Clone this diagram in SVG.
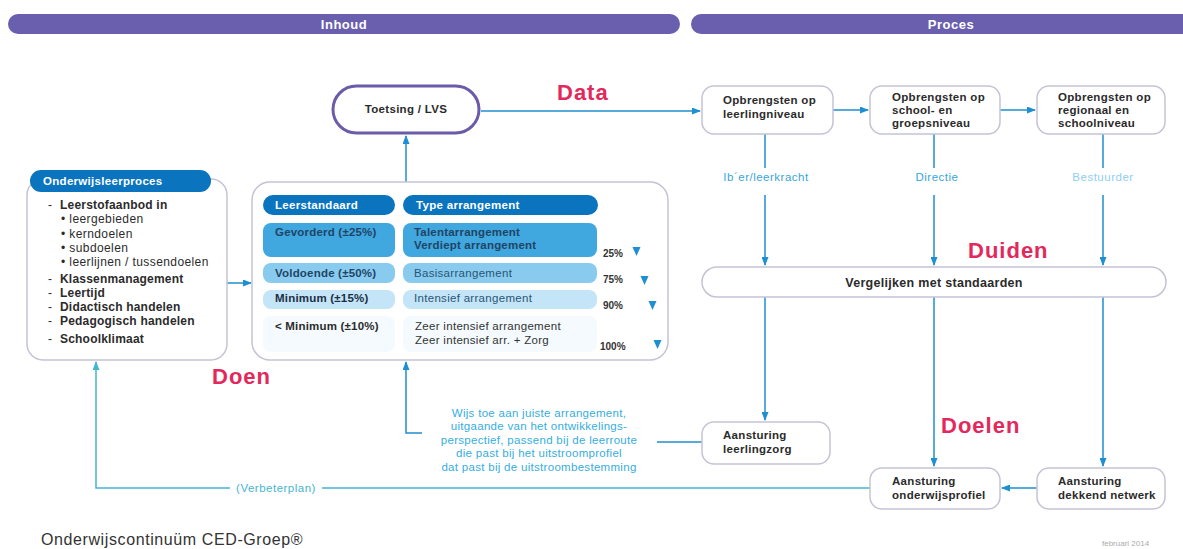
<svg xmlns="http://www.w3.org/2000/svg" width="1183" height="549" viewBox="0 0 1183 549">
<defs>
<marker id="ah" markerWidth="9" markerHeight="7" refX="8" refY="3.5" orient="auto" markerUnits="userSpaceOnUse">
<path d="M0,0 L9,3.5 L0,7 z" fill="#1e8fcf"/>
</marker>
<marker id="ahv" markerWidth="9" markerHeight="7" refX="8" refY="3.5" orient="auto" markerUnits="userSpaceOnUse">
<path d="M0,0 L9,3.5 L0,7 z" fill="#45b5d2"/>
</marker>
<style>
text{font-family:"Liberation Sans",Arial,sans-serif}
.bar{fill:#6a5fae}
.bart{fill:#fff;font-size:13px;font-weight:bold;text-anchor:middle;letter-spacing:0.5px}
.node{fill:#fff;stroke:#c4c3d6;stroke-width:1.5}
.nt{fill:#2b2b2b;font-size:11.5px;font-weight:bold;letter-spacing:0.3px}
.red{fill:#e3285c;font-size:22px;font-weight:bold;letter-spacing:1px}
.con{fill:none;stroke:#1e8fcf;stroke-width:1.5}
.conm{fill:none;stroke:#1e8fcf;stroke-width:1.5;marker-end:url(#ah)}
.conv{fill:none;stroke:#45b5d2;stroke-width:1.5}
.lt{font-size:11.5px;letter-spacing:0.5px;text-anchor:middle}
.li{fill:#2b2b2b;font-size:12px;font-weight:bold;letter-spacing:0.2px}
.lis{fill:#2b2b2b;font-size:12px;letter-spacing:0.4px}
.hd{fill:#0a74bf}
.hdt{fill:#fff;font-size:11.5px;font-weight:bold;letter-spacing:0.3px}
.ct{fill:#1f4465;font-size:11.5px;font-weight:bold;letter-spacing:0.2px}
.ctn{fill:#2a5675;font-size:11.5px;letter-spacing:0.3px}
.pct{fill:#333;font-size:10px;font-weight:bold}
.tri{fill:#1e8fd2}
.wt{fill:#35aee0;font-size:11.5px;letter-spacing:0.3px;text-anchor:middle}
</style>
</defs>

<g id="bar-inhoud">
<rect class="bar" x="8" y="14" width="672" height="20" rx="10"/>
<text class="bart" x="344" y="29">Inhoud</text>
</g>
<g id="bar-proces">
<rect class="bar" x="691" y="14" width="520" height="20" rx="10"/>
<text class="bart" x="951" y="29">Proces</text>
</g>

<g id="connectors">
<path class="conm" d="M481,111 L700,111"/>
<path class="conm" d="M833,110 L868,110"/>
<path class="conm" d="M1000,110 L1035,110"/>
<path class="conm" d="M406,182 L406,136"/>
<path class="conm" d="M227,283 L251,283"/>
<path class="con" d="M765,134 L765,168"/>
<path class="con" d="M934,134 L934,168"/>
<path class="con" d="M1103,134 L1103,168"/>
<path class="conm" d="M765,195 L765,265"/>
<path class="conm" d="M934,195 L934,265"/>
<path class="conm" d="M1103,195 L1103,265"/>
<path class="conm" d="M765,297 L765,420"/>
<path class="conm" d="M934,297 L934,466"/>
<path class="conm" d="M1103,297 L1103,466"/>
<path class="conm" d="M1037,488 L1002,488"/>
<path class="con" d="M702,442 L657,442"/>
<path class="conm" d="M422,433 L406,433 L406,362"/>
<path class="conv" d="M870,488 L322,488"/>
<path class="conv" d="M230,488 L96,488 L96,362" marker-end="url(#ahv)"/>
</g>

<g id="label-verbeterplan">
<text class="lt" x="276" y="492" fill="#45b5d2">(Verbeterplan)</text>
</g>

<g id="toetsing">
<rect x="333" y="86" width="146" height="47" rx="23.5" fill="#fff" stroke="#6c5ba8" stroke-width="3"/>
<text class="nt" x="406" y="113" text-anchor="middle">Toetsing / LVS</text>
</g>

<g id="label-data"><text class="red" x="557" y="100">Data</text></g>
<g id="label-duiden"><text class="red" x="968" y="258">Duiden</text></g>
<g id="label-doen"><text class="red" x="212" y="384">Doen</text></g>
<g id="label-doelen"><text class="red" x="941" y="433">Doelen</text></g>

<g id="opbrengsten-leerling">
<rect class="node" x="702" y="86" width="131" height="48" rx="12"/>
<text class="nt" x="723" y="104">Opbrengsten op</text>
<text class="nt" x="723" y="118">leerlingniveau</text>
</g>
<g id="opbrengsten-school">
<rect class="node" x="870" y="86" width="130" height="48" rx="12"/>
<text class="nt" x="892" y="101">Opbrengsten op</text>
<text class="nt" x="892" y="114">school- en</text>
<text class="nt" x="892" y="127">groepsniveau</text>
</g>
<g id="opbrengsten-regionaal">
<rect class="node" x="1037" y="86" width="128" height="48" rx="12"/>
<text class="nt" x="1058" y="101">Opbrengsten op</text>
<text class="nt" x="1058" y="114">regionaal en</text>
<text class="nt" x="1058" y="127">schoolniveau</text>
</g>

<g id="labels-rollen">
<text class="lt" x="766" y="181" fill="#37a6dc">Ib´er/leerkracht</text>
<text class="lt" x="937" y="181" fill="#37a6dc">Directie</text>
<text class="lt" x="1103" y="181" fill="#8ecff0">Bestuurder</text>
</g>

<g id="vergelijken">
<rect class="node" x="702" y="267" width="464" height="30" rx="15"/>
<text x="934" y="287" fill="#2b2b2b" font-size="12.5" font-weight="bold" text-anchor="middle" letter-spacing="0.3">Vergelijken met standaarden</text>
</g>

<g id="aansturing-leerlingzorg">
<rect class="node" x="702" y="422" width="128" height="42" rx="12"/>
<text class="nt" x="723" y="439">Aansturing</text>
<text class="nt" x="723" y="453">leerlingzorg</text>
</g>
<g id="aansturing-onderwijsprofiel">
<rect class="node" x="870" y="468" width="130" height="41" rx="12"/>
<text class="nt" x="892" y="485">Aansturing</text>
<text class="nt" x="892" y="499">onderwijsprofiel</text>
</g>
<g id="aansturing-netwerk">
<rect class="node" x="1037" y="468" width="128" height="41" rx="12"/>
<text class="nt" x="1058" y="485">Aansturing</text>
<text class="nt" x="1058" y="499">dekkend netwerk</text>
</g>

<g id="wijs-toe">
<text class="wt" x="539" y="417">Wijs toe aan juiste arrangement,</text>
<text class="wt" x="539" y="430">uitgaande van het ontwikkelings-</text>
<text class="wt" x="539" y="444">perspectief, passend bij de leerroute</text>
<text class="wt" x="539" y="457">die past bij het uitstroomprofiel</text>
<text class="wt" x="539" y="471">dat past bij de uitstroombestemming</text>
</g>

<g id="onderwijsleerproces">
<rect class="node" x="27" y="179" width="200" height="181" rx="16"/>
<rect x="30" y="170" width="181" height="22" rx="11" fill="#0a74bf"/>
<text class="hdt" x="43" y="185" font-size="12">Onderwijsleerproces</text>
<text class="lis" x="48" y="209">-</text><text class="li" x="60" y="209">Leerstofaanbod in</text>
<text class="lis" x="61" y="223">• leergebieden</text>
<text class="lis" x="61" y="238">• kerndoelen</text>
<text class="lis" x="61" y="252">• subdoelen</text>
<text class="lis" x="61" y="266">• leerlijnen / tussendoelen</text>
<text class="lis" x="48" y="283">-</text><text class="li" x="60" y="283">Klassenmanagement</text>
<text class="lis" x="48" y="297">-</text><text class="li" x="60" y="297">Leertijd</text>
<text class="lis" x="48" y="311">-</text><text class="li" x="60" y="311">Didactisch handelen</text>
<text class="lis" x="48" y="325">-</text><text class="li" x="60" y="325">Pedagogisch handelen</text>
<text class="lis" x="48" y="343">-</text><text class="li" x="60" y="343">Schoolklimaat</text>
</g>

<g id="arrangementen">
<rect class="node" x="252" y="182" width="416" height="178" rx="18"/>
<rect class="hd" x="263" y="195" width="132" height="20" rx="10"/>
<text class="hdt" x="275" y="209">Leerstandaard</text>
<rect class="hd" x="403" y="195" width="195" height="20" rx="10"/>
<text class="hdt" x="416" y="209">Type arrangement</text>

<rect x="263" y="223" width="132" height="34" rx="8" fill="#41a7df"/>
<rect x="403" y="223" width="194" height="34" rx="8" fill="#41a7df"/>
<text class="ct" x="275" y="236">Gevorderd (±25%)</text>
<text class="ct" x="414" y="236">Talentarrangement</text>
<text class="ct" x="414" y="249">Verdiept arrangement</text>
<text class="pct" x="603" y="257">25%</text>
<polygon class="tri" points="632.5,247 640.5,247 636.5,256"/>

<rect x="263" y="263" width="132" height="20" rx="8" fill="#88cbef"/>
<rect x="403" y="263" width="194" height="20" rx="8" fill="#88cbef"/>
<text class="ct" x="275" y="277">Voldoende (±50%)</text>
<text class="ctn" x="414" y="277">Basisarrangement</text>
<text class="pct" x="603" y="283">75%</text>
<polygon class="tri" points="640.5,276 648.5,276 644.5,285"/>

<rect x="263" y="290" width="132" height="19" rx="8" fill="#c3e5f7"/>
<rect x="403" y="290" width="194" height="19" rx="8" fill="#c3e5f7"/>
<text class="ct" x="275" y="302" style="fill:#1c2f44">Minimum (±15%)</text>
<text class="ctn" x="414" y="302">Intensief arrangement</text>
<text class="pct" x="603" y="309">90%</text>
<polygon class="tri" points="648.5,301 656.5,301 652.5,310"/>

<rect x="263" y="316" width="132" height="36" rx="8" fill="#f4fafd"/>
<rect x="403" y="316" width="194" height="36" rx="8" fill="#f4fafd"/>
<text class="ct" x="275" y="330" style="fill:#2b2b2b">&lt; Minimum (±10%)</text>
<text class="ctn" x="415" y="330" style="fill:#333">Zeer intensief arrangement</text>
<text class="ctn" x="415" y="344" style="fill:#333">Zeer intensief arr. + Zorg</text>
<text class="pct" x="600" y="350">100%</text>
<polygon class="tri" points="653.5,340 661.5,340 657.5,349"/>
</g>

<g id="footer">
<text x="41" y="545" fill="#333" font-size="16" letter-spacing="0.6">Onderwijscontinuüm CED-Groep®</text>
<text x="1102" y="546" fill="#aaa" font-size="8">februari 2014</text>
</g>
</svg>
